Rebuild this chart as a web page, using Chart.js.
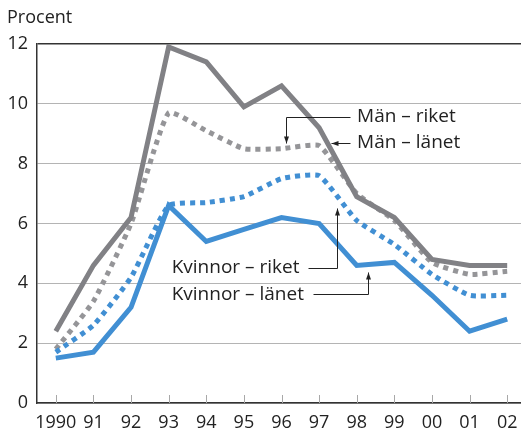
<!DOCTYPE html>
<html>
<head>
<meta charset="utf-8">
<script src="https://cdn.jsdelivr.net/npm/chart.js@4/dist/chart.umd.min.js"></script>
<style>
  html, body { margin: 0; padding: 0; background: #fff; overflow: hidden; }
  #wrap { width: 526px; height: 429px; }
</style>
</head>
<body>
<div id="wrap"><canvas id="chart" width="526" height="429"></canvas></div>
<script>
// Data
const years = ["1990", "91", "92", "93", "94", "95", "96", "97", "98", "99", "00", "01", "02"];
const manLanet = [2.4, 4.6, 6.2, 11.9, 11.4, 9.9, 10.6, 9.2, 6.9, 6.2, 4.8, 4.6, 4.6];
const manRiket = [1.8, 3.4, 6.0, 9.7, 9.1, 8.5, 8.5, 8.6, 7.0, 6.1, 4.7, 4.3, 4.4];
const kvinnorRiket = [1.7, 2.6, 4.2, 6.6, 6.7, 6.9, 7.5, 7.6, 6.1, 5.3, 4.3, 3.6, 3.6];
const kvinnorLanet = [1.5, 1.7, 3.2, 6.6, 5.4, 5.8, 6.2, 6.0, 4.6, 4.7, 3.6, 2.4, 2.8];
const yTicks = [0, 2, 4, 6, 8, 10, 12];

const GRAY = "#818185";
const GRAY_DOT = "#959598";
const BLUE = "#418fd3";
const FONT = "'Open Sans', 'Noto Sans', sans-serif";

// Labels with leader lines, in data units (x = category index, y = value)
const notes = [
    { text: "Män – riket", tx: 8.01, ty: 9.56, path: [[7.82, 9.56], [6.12, 9.56], [6.12, 8.69]] },
    { text: "Män – länet", tx: 8.01, ty: 8.69, path: [[7.82, 8.69], [7.32, 8.69]] },
    { text: "Kvinnor – riket", tx: 3.08, ty: 4.51, path: [[6.71, 4.51], [7.48, 4.51], [7.48, 6.52]] },
    { text: "Kvinnor – länet", tx: 3.08, ty: 3.64, path: [[6.84, 3.64], [8.30, 3.64], [8.30, 4.38]] }
];

function arrowHead(ctx, x1, y1, x2, y2) {
    const a = Math.atan2(y2 - y1, x2 - x1);
    const len = 7, w = 2.5;
    ctx.beginPath();
    ctx.moveTo(x2, y2);
    ctx.lineTo(x2 - len * Math.cos(a) + w * Math.sin(a), y2 - len * Math.sin(a) - w * Math.cos(a));
    ctx.lineTo(x2 - len * Math.cos(a) - w * Math.sin(a), y2 - len * Math.sin(a) + w * Math.cos(a));
    ctx.closePath();
    ctx.fill();
}

const extras = {
    id: "extras",
    beforeDatasetsDraw(chart) {
        // small tick marks inside the bottom axis
        const ctx = chart.ctx, xs = chart.scales.x, area = chart.chartArea;
        ctx.save();
        ctx.strokeStyle = "#a8a8a8";
        ctx.lineWidth = 1;
        years.forEach(function (y, i) {
            const x = Math.round(xs.getPixelForValue(i)) + 0.5;
            ctx.beginPath();
            ctx.moveTo(x, area.bottom - 8);
            ctx.lineTo(x, area.bottom);
            ctx.stroke();
        });
        ctx.restore();
    },
    afterDraw(chart) {
        const ctx = chart.ctx, xs = chart.scales.x, ys = chart.scales.y;
        ctx.save();
        ctx.fillStyle = "#222";
        ctx.font = "18px " + FONT;
        ctx.textBaseline = "middle";
        ctx.textAlign = "left";
        ctx.fillText("Procent", 7, 18);

        ctx.font = "19px " + FONT;
        ctx.strokeStyle = "#222";
        ctx.lineWidth = 1;
        notes.forEach(function (n) {
            ctx.fillText(n.text, xs.getPixelForValue(n.tx), ys.getPixelForValue(n.ty));
            const pts = n.path.map(function (p) {
                return [Math.round(xs.getPixelForValue(p[0])) + 0.5, Math.round(ys.getPixelForValue(p[1])) + 0.5];
            });
            ctx.beginPath();
            ctx.moveTo(pts[0][0], pts[0][1]);
            for (let i = 1; i < pts.length; i++) ctx.lineTo(pts[i][0], pts[i][1]);
            ctx.stroke();
            const a = pts[pts.length - 2], b = pts[pts.length - 1];
            arrowHead(ctx, a[0], a[1], b[0], b[1]);
        });
        ctx.restore();
    }
};

new Chart(document.getElementById("chart").getContext("2d"), {
    type: "line",
    data: {
        labels: years,
        datasets: [
            { label: "Kvinnor – länet", data: kvinnorLanet, borderColor: BLUE, borderWidth: 5, tension: 0 },
            { label: "Kvinnor – riket", data: kvinnorRiket, borderColor: BLUE, borderWidth: 5, borderDash: [5, 5], tension: 0.15 },
            { label: "Män – länet", data: manLanet, borderColor: GRAY, borderWidth: 5, tension: 0 },
            { label: "Män – riket", data: manRiket, borderColor: GRAY_DOT, borderWidth: 5, borderDash: [5, 5], tension: 0.15 }
        ]
    },
    options: {
        responsive: false,
        animation: false,
        events: [],
        elements: { point: { radius: 0 }, line: { borderCapStyle: "butt", borderJoinStyle: "miter" } },
        layout: { padding: { top: 44, left: 0, right: 0, bottom: 0 } },
        plugins: { legend: { display: false }, tooltip: { enabled: false }, title: { display: false } },
        scales: {
            x: {
                offset: true,
                grid: { display: false },
                border: { display: true, color: "#333", width: 1.5 },
                ticks: { color: "#222", font: { family: FONT, size: 18 }, padding: 1, maxRotation: 0, autoSkip: false },
                afterFit: function (s) { s.height = 26; }
            },
            y: {
                min: 0,
                max: 12,
                afterBuildTicks: function (s) { s.ticks = yTicks.map(function (v) { return { value: v }; }); },
                grid: {
                    drawTicks: false,
                    color: function (c) { return c.tick && c.tick.value === 12 ? "#333" : "#b4b4b4"; },
                    lineWidth: function (c) { return c.tick && c.tick.value === 12 ? 1.5 : 1; }
                },
                border: { display: true, color: "#333", width: 1.5 },
                ticks: { color: "#222", font: { family: FONT, size: 18 }, padding: 9 },
                afterFit: function (s) { s.width = 37; }
            }
        }
    },
    plugins: [extras]
});
</script>
</body>
</html>
